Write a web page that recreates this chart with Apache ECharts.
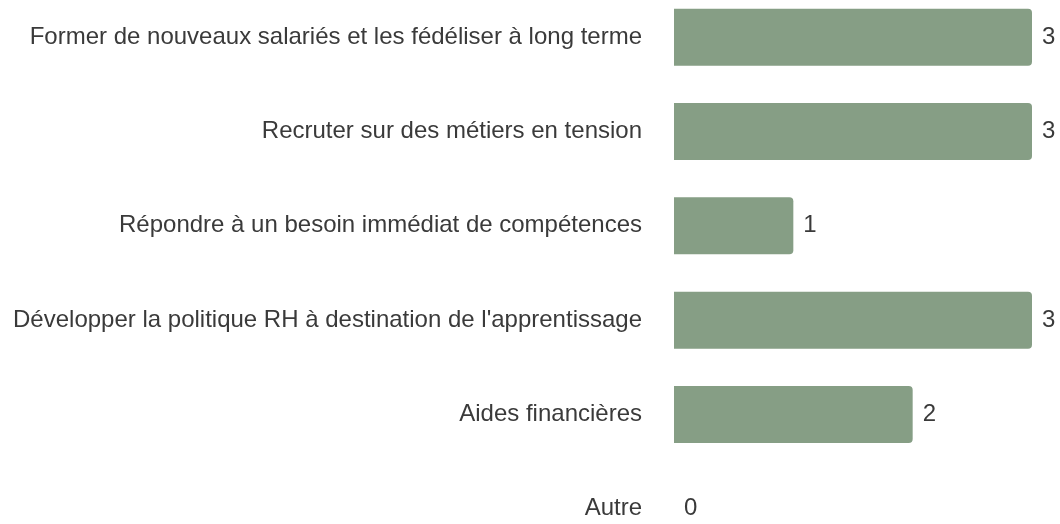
<!DOCTYPE html>
<html>
<head>
<meta charset="utf-8">
<script src="https://cdn.jsdelivr.net/npm/echarts@6/dist/echarts.min.js"></script>
<style>
  html, body { margin: 0; padding: 0; background: #fff; }
  #chart { width: 1060px; height: 524px; }
</style>
</head>
<body>
<div id="chart"></div>
<script>
// catégories (de haut en bas) et valeurs
const categories = [
  'Former de nouveaux salariés et les fédéliser à long terme',
  'Recruter sur des métiers en tension',
  'Répondre à un besoin immédiat de compétences',
  "Développer la politique RH à destination de l'apprentissage",
  'Aides financières',
  'Autre'
]
const values = [3, 3, 1, 3, 2, 0]

const chart = echarts.init(document.getElementById('chart'))
const font = '"Liberation Sans", Arial, sans-serif'

chart.setOption({
  animation: false,
  grid: {
    left: 674,
    right: 28,
    top: -10,
    bottom: -32,
    outerBoundsMode: 'none'
  },
  xAxis: {
    type: 'value',
    min: 0,
    max: 3,
    show: false,
    splitLine: { show: false }
  },
  yAxis: {
    type: 'category',
    inverse: true,
    data: categories,
    axisLine: { show: false },
    axisTick: { show: false },
    axisLabel: {
      margin: 32,
      fontSize: 24,
      fontFamily: font,
      color: '#3a3a3a'
    }
  },
  series: [
    {
      type: 'bar',
      data: values,
      barWidth: 57,
      itemStyle: {
        color: '#869e85',
        borderRadius: [0, 4, 4, 0]
      },
      label: {
        show: true,
        position: 'right',
        distance: 10,
        fontSize: 24,
        fontFamily: font,
        color: '#3a3a3a'
      }
    }
  ]
})
</script>
</body>
</html>
